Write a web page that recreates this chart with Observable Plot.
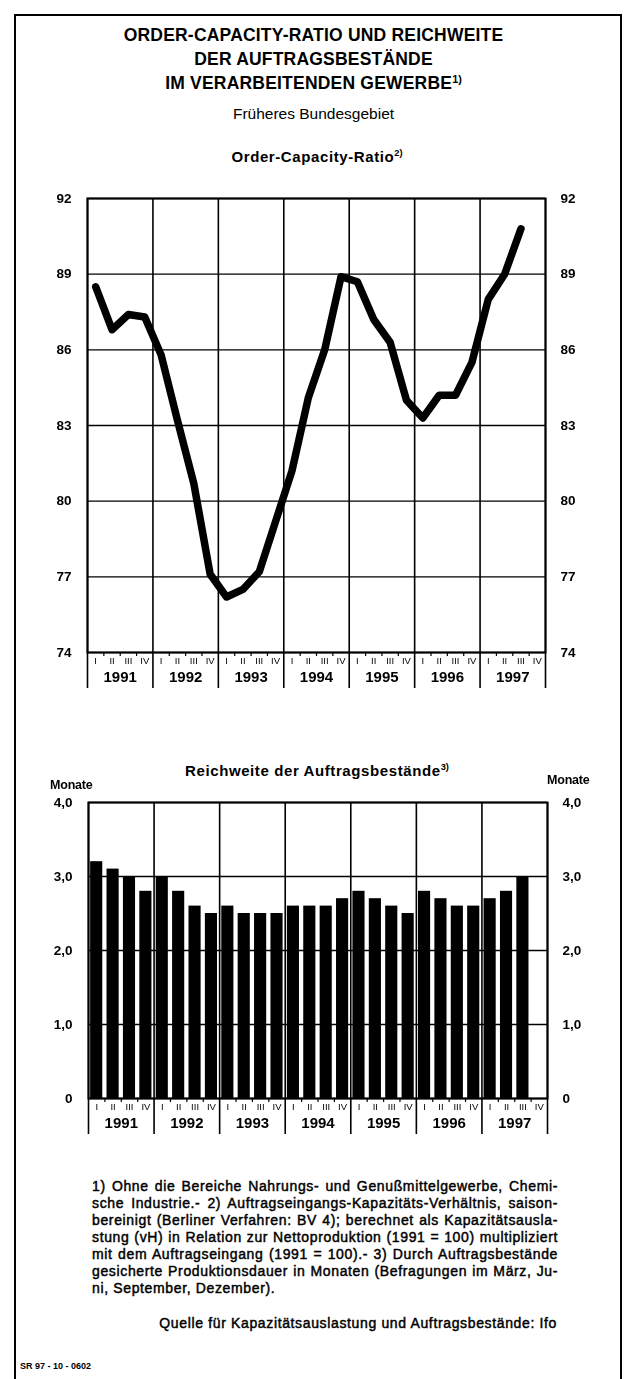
<!DOCTYPE html>
<html><head><meta charset="utf-8">
<script src="https://cdn.jsdelivr.net/npm/d3@7"></script>
<script src="https://cdn.jsdelivr.net/npm/@observablehq/plot@0.6"></script>
<style>
html,body{margin:0;padding:0;background:#fff}
body{width:625px;height:1379px;overflow:hidden;position:relative;font-family:"Liberation Sans",Arial,Helvetica,sans-serif;color:#000}
.border{position:absolute;left:14px;top:14px;width:604px;height:1420px;border:2px solid #000;border-bottom:none;z-index:5;pointer-events:none}
.abs{position:absolute}
.title{left:0;width:627px;top:23px;text-align:center;font-weight:bold;font-size:17.5px;line-height:24px;letter-spacing:0.2px}
.sub{left:0;width:627px;top:105px;text-align:center;font-size:15.5px}
.ctitle{left:0;width:634px;text-align:center;font-weight:bold;font-size:15px;letter-spacing:0.6px;z-index:3}
sup{font-size:0.62em;line-height:0;vertical-align:0.6em;letter-spacing:0}
.mon{font-size:12.5px;font-weight:bold;letter-spacing:-0.2px;z-index:3}
.notes{left:92px;top:1178px;width:466px;font-size:14px;line-height:17px;-webkit-text-stroke:0.45px #000}
.notes div{text-align:justify;text-align-last:justify;white-space:nowrap}
.notes div.last{text-align-last:left}
.src{left:60px;width:497px;top:1315px;text-align:right;font-size:14px;-webkit-text-stroke:0.45px #000;white-space:nowrap}
.sr{left:20px;top:1361px;font-size:9px;font-weight:bold}
.chart{will-change:transform;z-index:1}
</style>
</head><body>
<div class="abs title">ORDER-CAPACITY-RATIO UND REICHWEITE<br>DER AUFTRAGSBESTÄNDE<br>IM VERARBEITENDEN GEWERBE<sup>1)</sup></div>
<div class="abs sub">Früheres Bundesgebiet</div>
<div id="c1" class="abs chart" style="left:0;top:180px"></div>
<div class="abs ctitle" style="top:148px">Order-Capacity-Ratio<sup>2)</sup></div>
<div id="c2" class="abs chart" style="left:0;top:780px"></div>
<div class="abs ctitle" style="top:762px">Reichweite der Auftragsbestände<sup>3)</sup></div>
<div class="abs mon" style="left:50px;top:778px">Monate</div>
<div class="abs mon" style="left:547px;top:773px">Monate</div>
<div class="abs notes" id="notes">
<div>1) Ohne die Bereiche Nahrungs- und Genußmittelgewerbe, Chemi-</div>
<div>sche Industrie.- 2) Auftragseingangs-Kapazitäts-Verhältnis, saison-</div>
<div>bereinigt (Berliner Verfahren: BV 4); berechnet als Kapazitätsausla-</div>
<div>stung (vH) in Relation zur Nettoproduktion (1991 = 100) multipliziert</div>
<div>mit dem Auftragseingang (1991 = 100).- 3) Durch Auftragsbestände</div>
<div>gesicherte Produktionsdauer in Monaten (Befragungen im März, Ju-</div>
<div class="last">ni, September, Dezember).</div>
</div>
<div class="abs src" id="src">Quelle für Kapazitätsauslastung und Auftragsbestände: Ifo</div>
<div class="abs sr">SR 97 - 10 - 0602</div>
<div class="border"></div>
<script>
const years = [1991, 1992, 1993, 1994, 1995, 1996, 1997];
const quarterLabels = ["I", "II", "III", "IV"];
// Order-Capacity-Ratio, quarterly, 1991 Q1 .. 1997 Q3
const ocrValues = [88.5, 86.8, 87.4, 87.3, 85.8, 83.2, 80.7, 77.1, 76.2, 76.5, 77.2, 79.2,
  81.2, 84.1, 86.0, 88.9, 88.7, 87.2, 86.3, 84.0, 83.3, 84.2, 84.2, 85.5, 88.0, 89.0, 90.8];
const ocrTicks = [74, 77, 80, 83, 86, 89, 92];
// Reichweite der Auftragsbestände (Monate), quarterly, 1991 Q1 .. 1997 Q3
const rwValues = [3.2, 3.1, 3.0, 2.8, 3.0, 2.8, 2.6, 2.5, 2.6, 2.5, 2.5, 2.5,
  2.6, 2.6, 2.6, 2.7, 2.8, 2.7, 2.6, 2.5, 2.8, 2.7, 2.6, 2.6, 2.7, 2.8, 3.0];
const rwTicks = [0, 1, 2, 3, 4];

const nQ = years.length * 4;
const yearBounds = d3.range(0, nQ + 1, 4);
const quarterTicks = d3.range(1, nQ).filter(i => i % 4 !== 0);
const quarterMids = d3.range(nQ).map(i => i + 0.5);
const yearMids = years.map((y, i) => i * 4 + 2);
const font = '"Liberation Sans", Arial, Helvetica, sans-serif';

function xMarks(sepLen) {
  return [
    Plot.ruleX(yearBounds, {stroke: "#000", strokeWidth: 1.6, insetBottom: -sepLen}),
    Plot.axisX(quarterTicks, {anchor: "bottom", tickSize: 4, tickFormat: () => "", stroke: "#000", strokeWidth: 1.2, label: null}),
    Plot.axisX(quarterMids, {anchor: "bottom", tickSize: 0, tickPadding: 5, label: null, fill: "#000",
      tickFormat: v => quarterLabels[Math.floor(v) % 4], fontSize: 9.5, fontWeight: "normal"}),
    Plot.axisX(yearMids, {anchor: "bottom", tickSize: 0, tickPadding: 19, label: null, fill: "#000",
      tickFormat: v => String(years[(v - 2) / 4]), fontSize: 15, fontWeight: "bold"})
  ];
}

const ocrData = ocrValues.map((v, i) => ({q: i + 0.5, v}));
const chart1 = Plot.plot({
  width: 625, height: 522,
  marginLeft: 87, marginRight: 80, marginTop: 18, marginBottom: 50,
  style: {fontFamily: font, color: "#000", background: "transparent", overflow: "visible"},
  x: {domain: [0, nQ], axis: null},
  y: {domain: [74, 92], axis: null},
  marks: [
    Plot.gridY(ocrTicks, {stroke: "#000", strokeOpacity: 1, strokeWidth: 1.4}),
    ...xMarks(36),
    Plot.axisY(ocrTicks, {anchor: "left", tickSize: 0, tickPadding: 16, fontSize: 13.5, fontWeight: "bold", fill: "#000", label: null}),
    Plot.axisY(ocrTicks, {anchor: "right", tickSize: 0, tickPadding: 15, fontSize: 13.5, fontWeight: "bold", fill: "#000", label: null}),
    Plot.frame({stroke: "#000", strokeWidth: 2}),
    Plot.line(ocrData, {x: "q", y: "v", stroke: "#000", strokeWidth: 7.5, strokeLinejoin: "round", strokeLinecap: "round"})
  ]
});
document.getElementById("c1").appendChild(chart1);

const rwData = rwValues.map((v, i) => ({i, v}));
const fmtDe = d => d === 0 ? "0" : d.toFixed(1).replace(".", ",");
const chart2 = Plot.plot({
  width: 625, height: 363,
  marginLeft: 88, marginRight: 78, marginTop: 22, marginBottom: 45,
  style: {fontFamily: font, color: "#000", background: "transparent", overflow: "visible"},
  x: {domain: [0, nQ], axis: null},
  y: {domain: [0, 4], axis: null},
  marks: [
    Plot.gridY(rwTicks, {stroke: "#000", strokeOpacity: 1, strokeWidth: 1.4}),
    Plot.rectY(rwData, {x1: d => d.i + 0.13, x2: d => d.i + 0.87, y: "v", fill: "#000"}),
    ...xMarks(36),
    Plot.axisY(rwTicks, {anchor: "left", tickSize: 0, tickPadding: 16, tickFormat: fmtDe, fontSize: 13.5, fontWeight: "bold", fill: "#000", label: null}),
    Plot.axisY(rwTicks, {anchor: "right", tickSize: 0, tickPadding: 15, tickFormat: fmtDe, fontSize: 13.5, fontWeight: "bold", fill: "#000", label: null}),
    Plot.frame({stroke: "#000", strokeWidth: 2})
  ]
});
document.getElementById("c2").appendChild(chart2);

// widen the footnote lettering so the longest line just fills the justified block
(function fitNotes() {
  const box = document.getElementById("notes");
  const probe = document.createElement("span");
  probe.style.cssText = "position:absolute;left:0;top:-500px;white-space:nowrap;font-family:" + font + ";font-size:14px";
  document.body.appendChild(probe);
  let maxW = 0, maxN = 1;
  for (const l of box.children) {
    probe.textContent = l.textContent.trim();
    const w = probe.getBoundingClientRect().width;
    if (w > maxW) { maxW = w; maxN = probe.textContent.length; }
  }
  document.body.removeChild(probe);
  const ls = Math.max(-0.5, Math.min(1.2, (462 - maxW) / maxN));
  box.style.letterSpacing = ls + "px";
  document.getElementById("src").style.letterSpacing = ls + "px";
})();
</script>
</body></html>
